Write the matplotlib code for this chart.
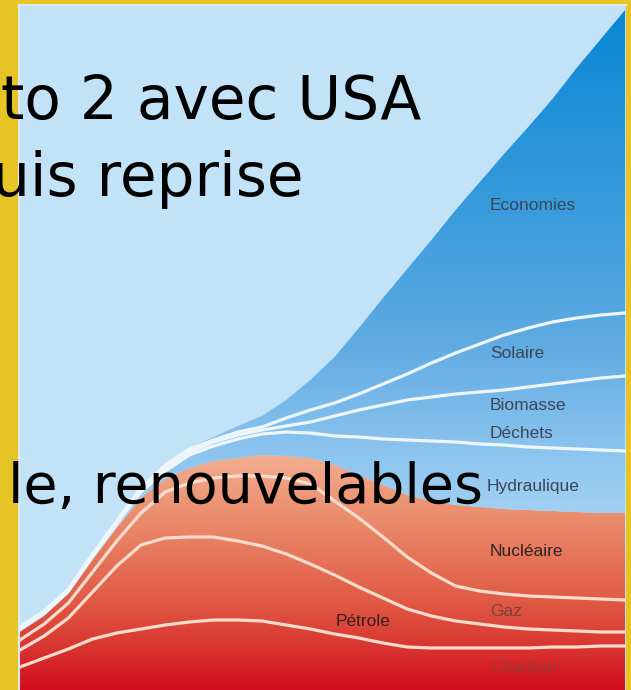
import numpy as np
import matplotlib.pyplot as plt
from matplotlib.colors import LinearSegmentedColormap

# années (axe horizontal, sans graduations dans l'original)
years = np.arange(1850, 2101, 10)

# épaisseur de chaque couche (unités arbitraires)
charbon = [23, 32, 41, 51, 57, 61, 65, 68, 70, 70, 69, 65, 61, 56, 52, 47, 43, 42, 42, 42, 42, 42, 43, 43, 44, 44]
petrole = [17, 22, 31, 47, 67, 84, 87, 85, 83, 79, 75, 71, 65, 59, 51, 45, 38, 32, 27, 24, 21, 19, 17, 16, 14, 14]
gaz = [10, 12, 15, 20, 25, 32, 46, 54, 59, 65, 70, 76, 80, 74, 69, 61, 52, 43, 35, 33, 33, 33, 33, 33, 33, 32]
nucleaire = [8, 8, 9, 12, 13, 15, 13, 15, 17, 18, 21, 22, 26, 36, 43, 52, 62, 72, 81, 84, 85, 86, 86, 86, 86, 87]
hydraulique = [3, 3, 3, 4, 5, 6, 8, 13, 15, 19, 21, 24, 25, 29, 38, 46, 55, 60, 63, 63, 64, 63, 63, 63, 63, 62]
biomasse = [1, 1, 1, 1, 1, 2, 3, 3, 4, 4, 4, 6, 11, 20, 27, 34, 40, 44, 48, 52, 55, 60, 64, 68, 72, 75]
solaire = [1, 1, 1, 1, 1, 2, 3, 3, 2, 3, 3, 8, 12, 13, 16, 21, 26, 34, 41, 48, 55, 59, 62, 63, 63, 63]
economies = [0, 0, 0, 0, 0, 0, 0, 1, 3, 6, 11, 18, 30, 46, 66, 86, 105, 123, 143, 162, 181, 201, 223, 250, 276, 303]

fig = plt.figure(figsize=(6.31, 6.90), dpi=100)
fig.patch.set_facecolor('#e6c424')
ax = fig.add_axes([19 / 631, 0, 607 / 631, 685 / 690])
ax.set_facecolor('#c2e3f7')

layers = [charbon, petrole, gaz, nucleaire, hydraulique, biomasse, solaire, economies]
tops = np.cumsum(layers, axis=0)
red_top = tops[3]
total = tops[7]

# zones (invisibles) servant de masque aux dégradés
red_fill = ax.fill_between(years, 0, red_top, facecolor='none', edgecolor='none')
blue_fill = ax.fill_between(years, red_top, total, facecolor='none', edgecolor='none')

grad = np.linspace(0, 1, 256).reshape(-1, 1)
red_cmap = LinearSegmentedColormap.from_list('rouge', [
    (0.0, '#d20c1e'), (0.21, '#da3c34'), (0.37, '#e05a44'), (0.7, '#ea8a6a'), (1.0, '#f3b094')])
blue_cmap = LinearSegmentedColormap.from_list('bleu', [
    (0.0, '#a4d2f2'), (0.15, '#88c2ee'), (0.35, '#5eaae2'), (0.6, '#3a9cdc'), (1.0, '#0886d4')])

im_r = ax.imshow(grad, cmap=red_cmap, extent=[1849, 2101, 0, 240], origin='lower', aspect='auto')
im_r.set_clip_path(red_fill.get_paths()[0], transform=ax.transData)
im_b = ax.imshow(grad, cmap=blue_cmap, extent=[1849, 2101, 170, 685], origin='lower', aspect='auto')
im_b.set_clip_path(blue_fill.get_paths()[0], transform=ax.transData)

# lignes blanches entre les couches
for i in range(3):
    ax.plot(years, tops[i], color='#f9dccb', lw=2.3, solid_joinstyle='round')
for i in range(4, 7):
    ax.plot(years, tops[i], color='#eef6fc', lw=2.3, solid_joinstyle='round')

ax.set_xlim(1849.6, 2100.4)
ax.set_ylim(0, 685)
ax.set_xticks([])
ax.set_yticks([])
for s in ax.spines.values():
    s.set_color('#dde8ee')
    s.set_linewidth(1.5)
ax.spines['bottom'].set_visible(False)
ax.spines['right'].set_visible(False)

# étiquettes des couches
lab = dict(family=['Liberation Sans', 'DejaVu Sans'], fontsize=12.5, va='center', ha='left')
ax.text(2044.2, 690 - 205, 'Economies', color='#3b4656', **lab)
ax.text(2044.2, 690 - 353, 'Solaire', color='#3b4656', **lab)
ax.text(2044.2, 690 - 405, 'Biomasse', color='#3b4656', **lab)
ax.text(2044.2, 690 - 434, 'Déchets', color='#3b4656', **lab)
ax.text(2043.0, 690 - 486, 'Hydraulique', color='#3b4656', **lab)
ax.text(2044.2, 690 - 551, 'Nucléaire', color='#2e2428', **lab)
ax.text(2044.2, 690 - 612, 'Gaz', color='#7a4238', **lab)
ax.text(2044.2, 690 - 668, 'Charbon', color='#9c3a30', **lab)
ax.text(1991.7, 690 - 622, 'Pétrole', color='#3a1e1e', family=['Liberation Sans', 'DejaVu Sans'],
        fontsize=12.5, va='center', ha='center')

# texte de la diapositive par-dessus
big = dict(family=['DejaVu Sans'], color='black', ha='right', va='baseline')
fig.text(421 / 631, 1 - 119 / 690, 'to 2 avec USA', fontsize=43, **big)
fig.text(304 / 631, 1 - 196 / 690, 'uis reprise', fontsize=43, **big)
fig.text(483 / 631, 1 - 503 / 690, 'le, renouvelables', fontsize=40, **big)

fig.savefig('out.png', dpi=100, facecolor=fig.get_facecolor())
